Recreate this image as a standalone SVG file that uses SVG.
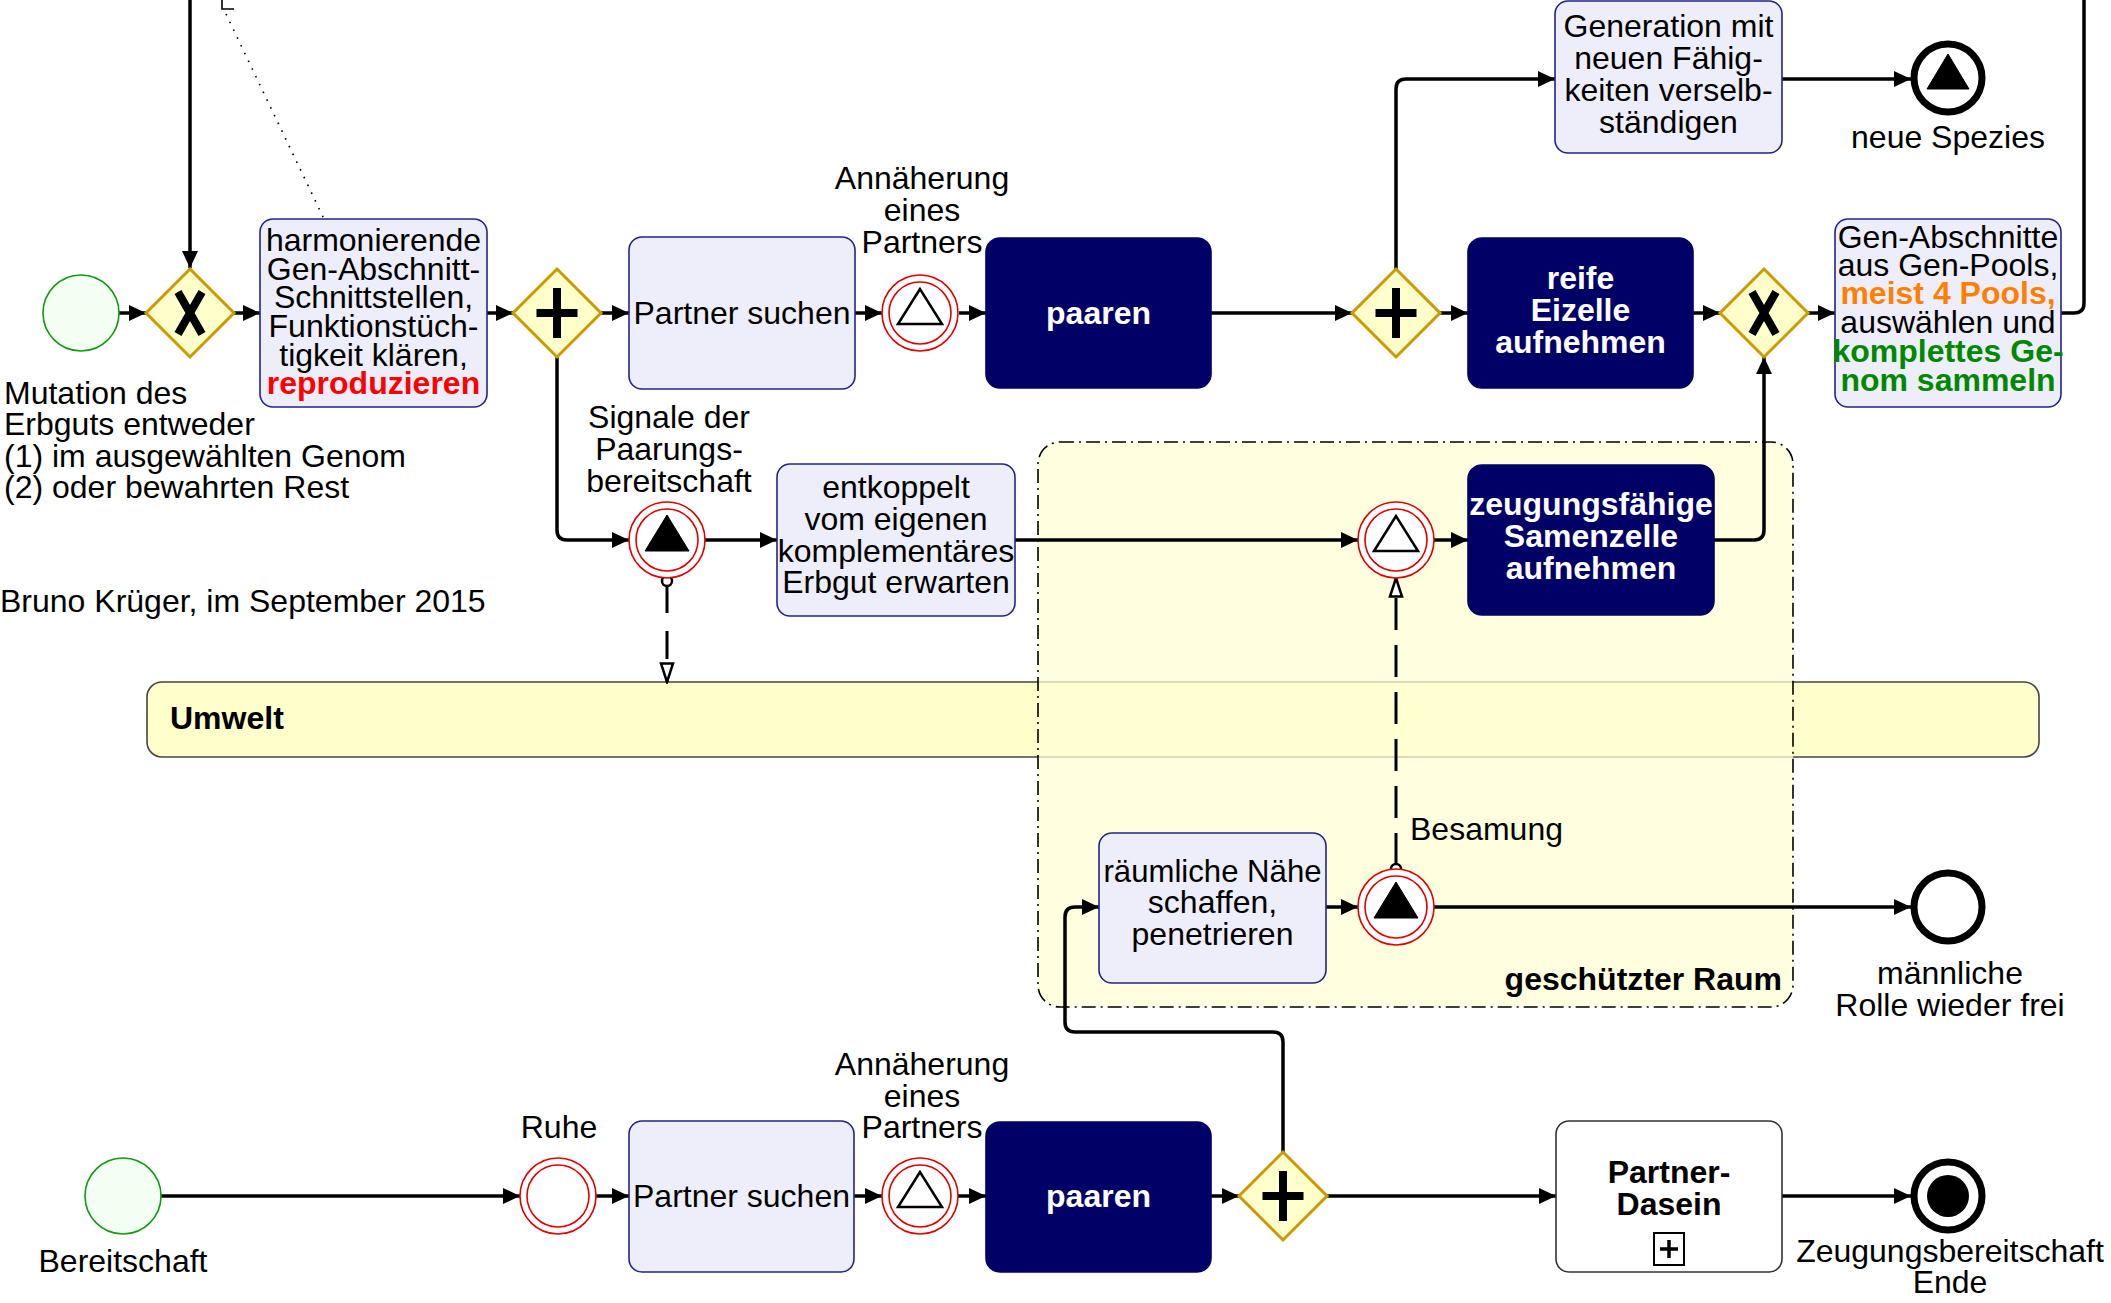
<svg xmlns="http://www.w3.org/2000/svg" width="2111" height="1303" viewBox="0 0 2111 1303">
<style>
text{font-family:"Liberation Sans",Arial,sans-serif;font-size:32px;fill:#000}
.c{text-anchor:middle}
.b{font-weight:bold}
.w{fill:#fff;font-weight:bold}
.task{fill:#eeeefb;stroke:#23238c;stroke-width:1.6}
.dark{fill:#000066;stroke:#000066;stroke-width:1.6}
.gw{fill:#ffffcc;stroke:#cc9900;stroke-width:3}
.start{fill:#f3fff3;stroke:#119911;stroke-width:1.6}
.evo{fill:#fff;stroke:#e00000;stroke-width:1.6}
.evi{fill:none;stroke:#e00000;stroke-width:1.6}
.tri{fill:#fff;stroke:#000;stroke-width:2.5;stroke-linejoin:miter}
.trif{fill:#000;stroke:#000;stroke-width:1}
.end{fill:#fff;stroke:#000;stroke-width:7}
.flow{fill:none;stroke:#000;stroke-width:3.5;marker-end:url(#arr)}
.msg{fill:none;stroke:#000;stroke-width:3;marker-end:url(#oarr)}
</style>
<defs>
<marker id="arr" markerUnits="userSpaceOnUse" markerWidth="18" markerHeight="18" refX="17" refY="9" orient="auto" viewBox="0 0 18 18">
<path d="M0,1 L17,9 L0,17 z" fill="#000"/>
</marker>
<marker id="oarr" markerUnits="userSpaceOnUse" markerWidth="22" markerHeight="16" refX="20" refY="8" orient="auto" viewBox="0 0 22 16">
<path d="M1.5,2 L20,8 L1.5,14 z" fill="#fff" stroke="#000" stroke-width="2.5"/>
</marker>
</defs>
<rect width="2111" height="1303" fill="#fff"/>

<!-- Umwelt lane -->
<g id="umwelt">
<rect x="147" y="682" width="1892" height="75" rx="15" fill="#ffffcc" stroke="#444" stroke-width="1.6"/>
<text x="170" y="729" class="b">Umwelt</text>
</g>

<!-- group geschützter Raum -->
<g id="geschuetzter-raum">
<rect x="1038" y="442" width="755" height="565" rx="22" fill="#ffffd4" fill-opacity="0.75" stroke="#000" stroke-width="1.6" stroke-dasharray="14 5 2 5"/>
<text x="1782" y="990" class="b" text-anchor="end">geschützter Raum</text>
</g>

<!-- annotation fragment -->
<g id="annotation">
<path d="M222,0 V9 H234" fill="none" stroke="#000" stroke-width="1.6"/>
<path d="M226,14 L324,219" fill="none" stroke="#000" stroke-width="1.6" stroke-dasharray="1.6 7"/>
</g>

<!-- connectors -->
<g id="connectors">
<path class="flow" d="M190,0 V268"/>
<path class="flow" d="M119,313 H146"/>
<path class="flow" d="M234,313 H260"/>
<path class="flow" d="M487,313 H513"/>
<path class="flow" d="M601,313 H629"/>
<path class="flow" d="M855,313 H882"/>
<path class="flow" d="M959,313 H986"/>
<path class="flow" d="M1211,313 H1352"/>
<path class="flow" d="M1440,313 H1468"/>
<path class="flow" d="M1693,313 H1720"/>
<path class="flow" d="M1808,313 H1835"/>
<path d="M2061,313 H2074 Q2084,313 2084,303 V0" fill="none" stroke="#000" stroke-width="3.5"/>
<path class="flow" d="M1396,269 V89 Q1396,79 1406,79 H1555"/>
<path class="flow" d="M1782,79 H1911"/>
<path class="flow" d="M557,357 V530 Q557,540 567,540 H629"/>
<path class="flow" d="M705,540 H777"/>
<path class="flow" d="M1015,540 H1358"/>
<path class="flow" d="M1434,540 H1468"/>
<path class="flow" d="M1714,540 H1754 Q1764,540 1764,530 V357"/>
<path class="flow" d="M1326,907 H1358"/>
<path class="flow" d="M1434,907 H1911"/>
<path class="flow" d="M1283,1152 V1042 Q1283,1032 1273,1032 H1075 Q1065,1032 1065,1022 V917 Q1065,907 1075,907 H1099"/>
<path class="flow" d="M161,1196 H520"/>
<path class="flow" d="M596,1196 H629"/>
<path class="flow" d="M854,1196 H882"/>
<path class="flow" d="M958,1196 H986"/>
<path class="flow" d="M1211,1196 H1239"/>
<path class="flow" d="M1327,1196 H1556"/>
<path class="flow" d="M1782,1196 H1911"/>
<!-- message flows -->
<path class="msg" d="M667,585 V682" stroke-dasharray="28 18"/>
<circle cx="667" cy="581" r="5" fill="#fff" stroke="#000" stroke-width="2.5"/>
<path class="msg" d="M1396,865 V578" stroke-dasharray="32 15"/>
<circle cx="1396" cy="869" r="5" fill="#fff" stroke="#000" stroke-width="2.5"/>
</g>

<!-- row 1 -->
<g id="start-mutation">
<circle class="start" cx="81" cy="313" r="38"/>
<text x="4" y="404">Mutation des</text>
<text x="4" y="435">Erbguts entweder</text>
<text x="4" y="467">(1) im ausgewählten Genom</text>
<text x="4" y="498">(2) oder bewahrten Rest</text>
</g>
<g id="xor1">
<path class="gw" d="M190,269 L234,313 L190,357 L146,313 z"/>
<path d="M178,292 L202,334 M202,292 L178,334" stroke="#000" stroke-width="8" fill="none"/>
</g>
<g id="task-harmonierende">
<rect class="task" x="260" y="219" width="227" height="188" rx="13"/>
<text class="c" x="373.5" y="251">harmonierende</text>
<text class="c" x="373.5" y="280">Gen-Abschnitt-</text>
<text class="c" x="373.5" y="308">Schnittstellen,</text>
<text class="c" x="373.5" y="337">Funktionstüch-</text>
<text class="c" x="373.5" y="366">tigkeit klären,</text>
<text class="c b" x="373.5" y="394" style="fill:#ff0000">reproduzieren</text>
</g>
<g id="and1">
<path class="gw" d="M557,269 L601,313 L557,357 L513,313 z"/>
<rect x="553" y="288" width="8" height="50"/>
<rect x="536.5" y="309" width="41" height="8"/>
</g>
<g id="task-partner-suchen-1">
<rect class="task" x="629" y="237" width="226" height="152" rx="13"/>
<text class="c" x="742" y="324">Partner suchen</text>
</g>
<g id="event-annaeherung-1">
<circle class="evo" cx="920" cy="313" r="38"/>
<circle class="evi" cx="920" cy="313" r="31"/>
<path class="tri" d="M920,289 L898,324 L942,324 z"/>
<text class="c" x="922" y="189">Annäherung</text>
<text class="c" x="922" y="221">eines</text>
<text class="c" x="922" y="253">Partners</text>
</g>
<g id="task-paaren-1">
<rect class="dark" x="986" y="238" width="225" height="150" rx="14"/>
<text class="c w" x="1098.5" y="324">paaren</text>
</g>
<g id="and2">
<path class="gw" d="M1396,269 L1440,313 L1396,357 L1352,313 z"/>
<rect x="1392" y="288" width="8" height="50"/>
<rect x="1375.5" y="309" width="41" height="8"/>
</g>
<g id="task-reife-eizelle">
<rect class="dark" x="1468" y="238" width="225" height="150" rx="14"/>
<text class="c w" x="1580.5" y="289">reife</text>
<text class="c w" x="1580.5" y="321">Eizelle</text>
<text class="c w" x="1580.5" y="353">aufnehmen</text>
</g>
<g id="xor2">
<path class="gw" d="M1764,269 L1808,313 L1764,357 L1720,313 z"/>
<path d="M1752,292 L1776,334 M1776,292 L1752,334" stroke="#000" stroke-width="8" fill="none"/>
</g>
<g id="task-gen-abschnitte">
<rect class="task" x="1835" y="219" width="226" height="188" rx="13"/>
<text class="c" x="1948" y="248">Gen-Abschnitte</text>
<text class="c" x="1948" y="276">aus Gen-Pools,</text>
<text class="c b" x="1948" y="304" style="fill:#ff8000">meist 4 Pools,</text>
<text class="c" x="1948" y="333">auswählen und</text>
<text class="c b" x="1948" y="362" style="fill:#008800">komplettes Ge-</text>
<text class="c b" x="1948" y="391" style="fill:#008800">nom sammeln</text>
</g>
<g id="task-generation">
<rect class="task" x="1555" y="1" width="227" height="152" rx="13"/>
<text class="c" x="1668.5" y="37">Generation mit</text>
<text class="c" x="1668.5" y="69">neuen Fähig-</text>
<text class="c" x="1668.5" y="101">keiten verselb-</text>
<text class="c" x="1668.5" y="133">ständigen</text>
</g>
<g id="end-neue-spezies">
<circle class="end" cx="1948" cy="78" r="34"/>
<path class="trif" d="M1948,54 L1927,89 L1969,89 z"/>
<text class="c" x="1948" y="148">neue Spezies</text>
</g>

<!-- row 2 -->
<g id="event-signale">
<circle class="evo" cx="667" cy="540" r="38"/>
<circle class="evi" cx="667" cy="540" r="31"/>
<path class="trif" d="M667,515 L645,551 L689,551 z"/>
<text class="c" x="669" y="428">Signale der</text>
<text class="c" x="669" y="460">Paarungs-</text>
<text class="c" x="669" y="492">bereitschaft</text>
</g>
<g id="task-entkoppelt">
<rect class="task" x="777" y="464" width="238" height="152" rx="13"/>
<text class="c" x="896" y="498">entkoppelt</text>
<text class="c" x="896" y="530">vom eigenen</text>
<text class="c" x="896" y="562">komplementäres</text>
<text class="c" x="896" y="593">Erbgut erwarten</text>
</g>
<g id="event-samenzelle">
<circle class="evo" cx="1396" cy="540" r="38"/>
<circle class="evi" cx="1396" cy="540" r="31"/>
<path class="tri" d="M1396,516 L1374,551 L1418,551 z"/>
</g>
<g id="task-zeugungsfaehige">
<rect class="dark" x="1468" y="465" width="246" height="150" rx="14"/>
<text class="c w" x="1591" y="515">zeugungsfähige</text>
<text class="c w" x="1591" y="547">Samenzelle</text>
<text class="c w" x="1591" y="579">aufnehmen</text>
</g>

<!-- row 3 -->
<g id="task-raeumliche-naehe">
<rect class="task" x="1099" y="833" width="227" height="150" rx="13"/>
<text class="c" x="1212.5" y="882" textLength="218" lengthAdjust="spacingAndGlyphs">räumliche Nähe</text>
<text class="c" x="1212.5" y="913">schaffen,</text>
<text class="c" x="1212.5" y="945">penetrieren</text>
</g>
<g id="event-besamung">
<circle class="evo" cx="1396" cy="907" r="38"/>
<circle class="evi" cx="1396" cy="907" r="31"/>
<path class="trif" d="M1396,882 L1374,918 L1418,918 z"/>
<text x="1410" y="840">Besamung</text>
</g>
<g id="end-maennliche-rolle">
<circle class="end" cx="1948" cy="907" r="34"/>
<text class="c" x="1950" y="984">männliche</text>
<text class="c" x="1950" y="1016">Rolle wieder frei</text>
</g>

<!-- row 4 -->
<g id="start-bereitschaft">
<circle class="start" cx="123" cy="1196" r="38"/>
<text class="c" x="123" y="1272">Bereitschaft</text>
</g>
<g id="event-ruhe">
<circle class="evo" cx="558" cy="1196" r="38"/>
<circle class="evi" cx="558" cy="1196" r="31"/>
<text class="c" x="559" y="1138">Ruhe</text>
</g>
<g id="task-partner-suchen-2">
<rect class="task" x="629" y="1121" width="225" height="151" rx="13"/>
<text class="c" x="741.5" y="1207">Partner suchen</text>
</g>
<g id="event-annaeherung-2">
<circle class="evo" cx="920" cy="1196" r="38"/>
<circle class="evi" cx="920" cy="1196" r="31"/>
<path class="tri" d="M920,1172 L898,1207 L942,1207 z"/>
<text class="c" x="922" y="1075">Annäherung</text>
<text class="c" x="922" y="1107">eines</text>
<text class="c" x="922" y="1138">Partners</text>
</g>
<g id="task-paaren-2">
<rect class="dark" x="986" y="1122" width="225" height="150" rx="14"/>
<text class="c w" x="1098.5" y="1207">paaren</text>
</g>
<g id="and3">
<path class="gw" d="M1283,1152 L1327,1196 L1283,1240 L1239,1196 z"/>
<rect x="1279" y="1171" width="8" height="50"/>
<rect x="1262.5" y="1192" width="41" height="8"/>
</g>
<g id="subprocess-partner-dasein">
<rect x="1556" y="1121" width="226" height="151" rx="13" fill="#fff" stroke="#333" stroke-width="1.6"/>
<text class="c b" x="1669" y="1183">Partner-</text>
<text class="c b" x="1669" y="1215">Dasein</text>
<rect x="1654" y="1233" width="30" height="32" fill="#fff" stroke="#000" stroke-width="2"/>
<path d="M1669,1240 V1258 M1660,1249 H1678" stroke="#000" stroke-width="3.5"/>
</g>
<g id="end-zeugungsbereitschaft">
<circle class="end" cx="1948" cy="1196" r="34"/>
<circle cx="1948" cy="1196" r="21" fill="#000"/>
<text class="c" x="1950" y="1262">Zeugungsbereitschaft</text>
<text class="c" x="1950" y="1293">Ende</text>
</g>

<text x="0" y="612">Bruno Krüger, im September 2015</text>
</svg>
